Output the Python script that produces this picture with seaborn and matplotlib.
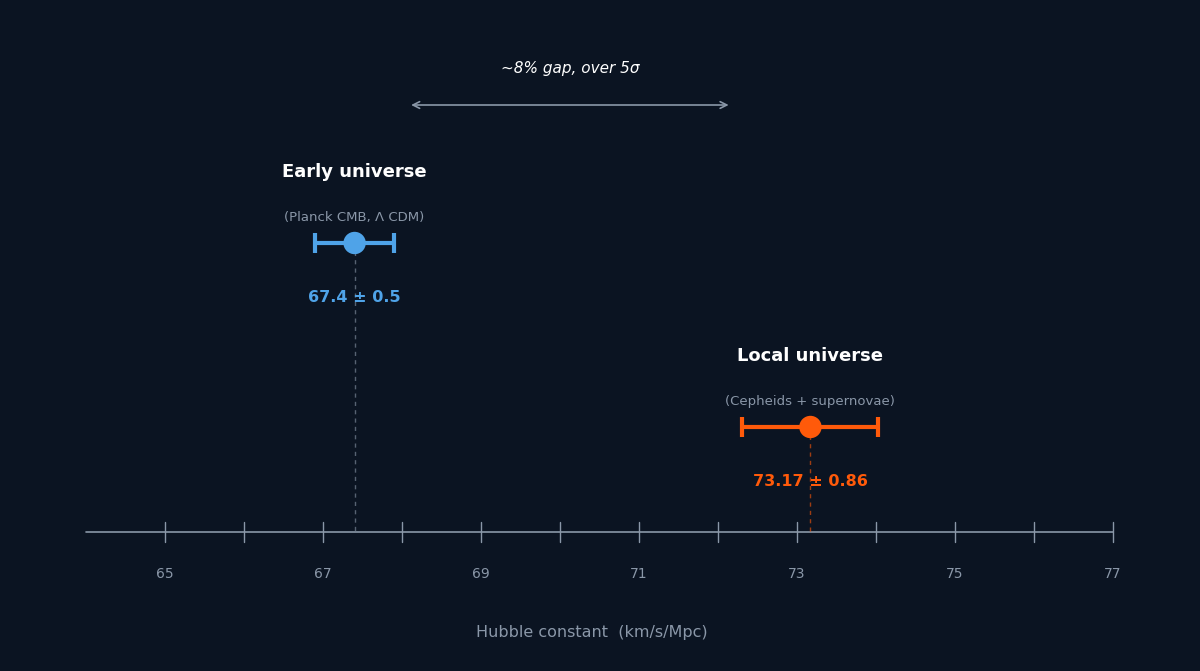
import matplotlib
matplotlib.use("Agg")
import matplotlib.pyplot as plt
import seaborn as sns
import pandas as pd

labels = ["Early universe", "Local universe"]
subtitles = ["(Planck CMB, Λ CDM)", "(Cepheids + supernovae)"]
values = [67.4, 73.17]
errors = [0.5, 0.86]
value_texts = ["67.4 ± 0.5", "73.17 ± 0.86"]
colors = ["#4fa3e8", "#ff5a0a"]
rows = [243, 427]  # vertical placement (figure pixel rows)
ticks = list(range(65, 78))
tick_labels = [str(t) if t % 2 == 1 else "" for t in ticks]
gap_start, gap_end = 68.08, 72.17

bg = "#0b1422"
sns.set_theme(style="white")
plt.rcParams['font.family'] = ['DejaVu Sans']
fig = plt.figure(figsize=(12, 6.71), dpi=100, facecolor=bg)
ax = fig.add_axes([0, 0, 1, 1])
ax.set_facecolor(bg)
ax.set_xlim(65 - 165 / 79, 65 + 1035 / 79)
ax.set_ylim(671, 0)
ax.axis("off")

axis_y = 532
grey = "#8a97a8"
ax.plot([64.0, 77.0], [axis_y, axis_y], color=grey, lw=1.2)
for t, tl in zip(ticks, tick_labels):
    ax.plot([t, t], [axis_y - 10, axis_y + 10], color=grey, lw=1)
    if tl:
        ax.text(t, 574, tl, color=grey, ha="center", va="center", fontsize=10)
ax.text(70.4, 633, "Hubble constant  (km/s/Mpc)", color=grey, ha="center", va="center", fontsize=11.5)

df = pd.DataFrame({"v": values, "y": rows, "lab": labels})
for v, e, y, c, lab, sub, vt in zip(values, errors, rows, colors, labels, subtitles, value_texts):
    ax.plot([v, v], [y, axis_y], color=c if c == colors[1] else grey, lw=1, ls=(0, (3, 3)), alpha=0.6)
    ax.errorbar([v], [y], xerr=[e], fmt="none", ecolor=c, elinewidth=3, capsize=7, capthick=3)
    ax.text(v, y - 71, lab, color="white", ha="center", va="center", fontsize=13, fontweight="bold")
    ax.text(v, y - 26, sub, color=grey, ha="center", va="center", fontsize=9.5)
    ax.text(v, y + 55, vt, color=c, ha="center", va="center", fontsize=11.5, fontweight="bold")
sns.scatterplot(data=df, x="v", y="y", hue="lab", palette=colors, s=260, edgecolor="none",
                legend=False, ax=ax, zorder=5)
ax.set_xlim(65 - 165 / 79, 65 + 1035 / 79)
ax.set_ylim(671, 0)
ax.axis("off")

ax.annotate("", xy=(gap_start, 105), xytext=(gap_end, 105),
            arrowprops=dict(arrowstyle="<->", color=grey, lw=1.2))
ax.text((gap_start + gap_end) / 2, 68, "~8% gap, over 5σ", color="white", ha="center", va="center",
        fontsize=11, style="italic")
fig.savefig("out.png", dpi=100, facecolor=bg)
